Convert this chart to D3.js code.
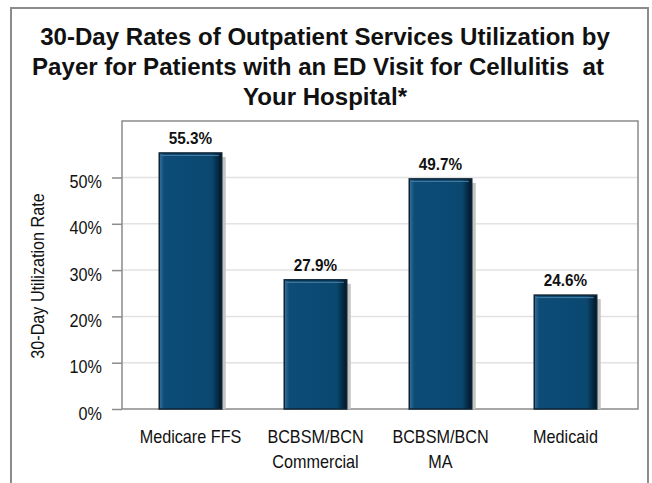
<!DOCTYPE html>
<html>
<head>
<meta charset="utf-8">
<script src="https://cdn.jsdelivr.net/npm/d3@7"></script>
<style>
  body { margin: 0; background: #fff; }
  text { font-family: "Liberation Sans", Arial, sans-serif; fill: #111; white-space: pre; }
</style>
</head>
<body>
<svg id="chart"></svg>
<script>
const categories = ["Medicare FFS", "BCBSM/BCN Commercial", "BCBSM/BCN MA", "Medicaid"];
const categoryLines = [["Medicare FFS"], ["BCBSM/BCN", "Commercial"], ["BCBSM/BCN", "MA"], ["Medicaid"]];
const rates = [55.3, 27.9, 49.7, 24.6];
const yTicks = [0, 10, 20, 30, 40, 50];
const titleLines = [
  "30-Day Rates of Outpatient Services Utilization by",
  "Payer for Patients with an ED Visit for Cellulitis  at",
  "Your Hospital*"
];
const yTitle = "30-Day Utilization Rate";

const width = 652, height = 483;
// plot frame
const plotLeft = 122, plotRight = 638, plotTop = 121, plotBottom = 409;
const squeeze = 0.9;

const svg = d3.select("#chart")
  .attr("width", width)
  .attr("height", height);

svg.append("rect")
  .attr("width", width)
  .attr("height", height)
  .attr("fill", "#fff");

// outer frame
svg.append("rect")
  .attr("x", 11)
  .attr("y", 8)
  .attr("width", 637)
  .attr("height", 500)
  .attr("fill", "none")
  .attr("stroke", "#8c8c8c")
  .attr("stroke-width", 2);

//title
const titleBaselines = [45, 75, 105];
const titleCenters = [325, 318, 325];
const titleText = svg.selectAll(".title")
  .data(titleLines)
  .enter()
  .append("text")
  .attr("class", "title")
  .attr("text-anchor", "middle")
  .attr("font-weight", "bold")
  .attr("font-size", 23)
  .text(d => d);
const natural = titleText.nodes()[0].getComputedTextLength();
const titleSqueeze = 570 / natural;
titleText.attr("transform", (d, i) => `translate(${titleCenters[i]},${titleBaselines[i]}) scale(${titleSqueeze},1)`);

//scales
const x = d3.scaleBand()
  .domain(categories)
  .range([128, 628])
  .paddingInner(0.5)
  .paddingOuter(0.25);
const y = d3.scaleLinear()
  .domain([0, 62.2])
  .range([plotBottom, plotTop]);

//gridlines
svg.selectAll(".grid")
  .data(yTicks.filter(d => d > 0))
  .enter()
  .append("line")
  .attr("class", "grid")
  .attr("x1", plotLeft)
  .attr("x2", plotRight)
  .attr("y1", d => y(d))
  .attr("y2", d => y(d))
  .attr("stroke", "#e2e2e2")
  .attr("stroke-width", 1.5);

//y axis
const yAxis = d3.axisLeft(y)
  .tickValues(yTicks)
  .tickSize(10)
  .tickFormat(d => d + "%");
const gy = svg.append("g")
  .attr("transform", `translate(${plotLeft},0)`)
  .attr("font-family", null)
  .call(yAxis);
gy.select(".domain").remove();
gy.selectAll(".tick line")
  .attr("stroke", "#8c8c8c")
  .attr("stroke-width", 1.5);
gy.selectAll(".tick text")
  .attr("font-size", 18)
  .attr("fill", "#111")
  .attr("x", 0)
  .attr("dy", null)
  .attr("transform", `translate(-20,10) scale(${squeeze},1)`);

//plot frame
svg.append("rect")
  .attr("x", plotLeft)
  .attr("y", plotTop)
  .attr("width", plotRight - plotLeft)
  .attr("height", plotBottom - plotTop)
  .attr("fill", "none")
  .attr("stroke", "#8a8a8a")
  .attr("stroke-width", 1.5);

//bar gradient
const grad = svg.append("defs").append("linearGradient")
  .attr("id", "barFill")
  .attr("x1", 0).attr("x2", 1).attr("y1", 0).attr("y2", 0);
[[0, "#3a739b"], [0.08, "#0c4c77"], [0.84, "#0a4870"], [1, "#021626"]].forEach(s => {
  grad.append("stop").attr("offset", s[0]).attr("stop-color", s[1]);
});

const barData = categories.map((c, i) => ({ cat: c, rate: rates[i], lines: categoryLines[i] }));

//shadows
svg.selectAll(".shadow")
  .data(barData)
  .enter()
  .append("rect")
  .attr("class", "shadow")
  .attr("x", d => x(d.cat) + 4)
  .attr("y", d => y(d.rate) + 4)
  .attr("width", x.bandwidth())
  .attr("height", d => plotBottom - y(d.rate) - 4)
  .attr("fill", "#c4c4c4");

//bars
svg.selectAll(".bar")
  .data(barData)
  .enter()
  .append("rect")
  .attr("class", "bar")
  .attr("x", d => x(d.cat))
  .attr("y", d => y(d.rate))
  .attr("width", x.bandwidth())
  .attr("height", d => plotBottom - y(d.rate))
  .attr("fill", "url(#barFill)")
  .attr("stroke", "#0e2436")
  .attr("stroke-width", 1.5);

svg.selectAll(".bartop")
  .data(barData)
  .enter()
  .append("line")
  .attr("class", "bartop")
  .attr("x1", d => x(d.cat) + 2)
  .attr("x2", d => x(d.cat) + x.bandwidth() - 3)
  .attr("y1", d => y(d.rate) + 2.5)
  .attr("y2", d => y(d.rate) + 2.5)
  .attr("stroke", "#4a7ea3")
  .attr("stroke-width", 1);

//value labels
svg.selectAll(".value")
  .data(barData)
  .enter()
  .append("text")
  .attr("class", "value")
  .attr("text-anchor", "middle")
  .attr("font-weight", "bold")
  .attr("font-size", 17)
  .attr("transform", d => `translate(${x(d.cat) + x.bandwidth() / 2},${y(d.rate) - 9}) scale(${squeeze},1)`)
  .text(d => d.rate.toFixed(1) + "%");

//category labels
const xLabels = svg.selectAll(".xlabel")
  .data(barData)
  .enter()
  .append("g")
  .attr("class", "xlabel")
  .attr("transform", d => `translate(${x(d.cat) + x.bandwidth() / 2},${plotBottom})`);
xLabels.selectAll("text")
  .data(d => d.lines)
  .enter()
  .append("text")
  .attr("text-anchor", "middle")
  .attr("font-size", 18)
  .attr("transform", (d, i) => `translate(0,${34 + i * 25}) scale(${squeeze},1)`)
  .text(d => d);

//y title
svg.append("text")
  .attr("text-anchor", "middle")
  .attr("font-size", 18)
  .attr("transform", `translate(44,276) rotate(-90) scale(${squeeze},1)`)
  .text(yTitle);
</script>
</body>
</html>
